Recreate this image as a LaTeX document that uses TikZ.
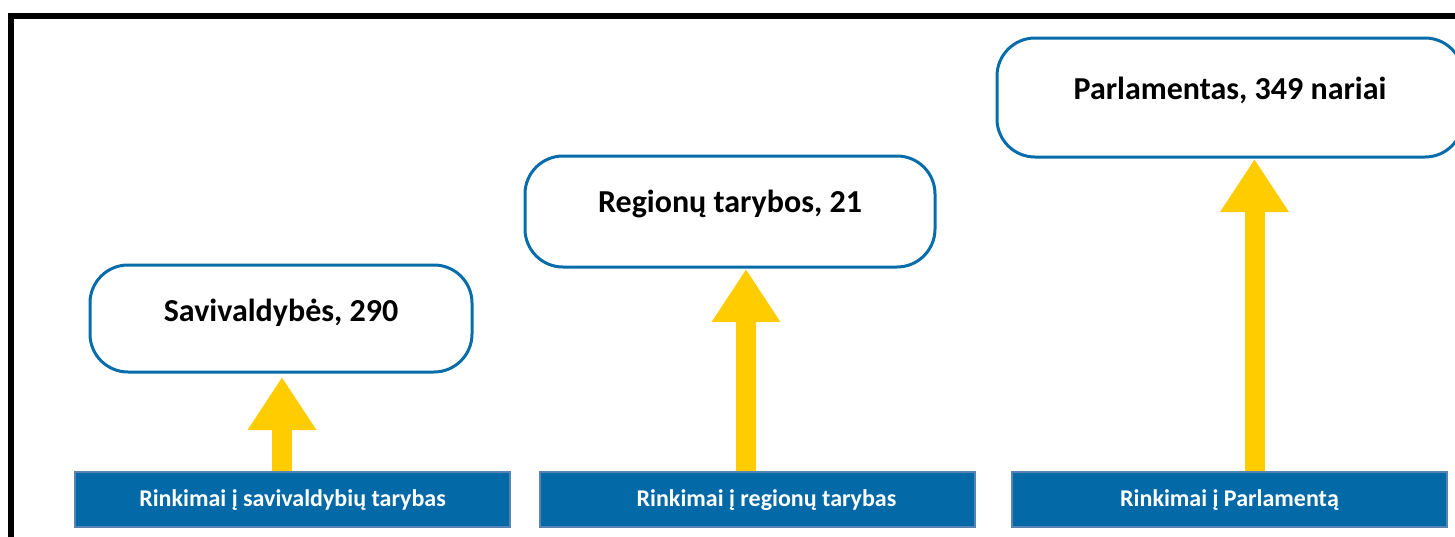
\documentclass[tikz,border=0pt]{standalone}
\usepackage{fontspec}
\setmainfont{Carlito}
\usetikzlibrary{arrows.meta}
\definecolor{boxblue}{RGB}{3,105,167}
\definecolor{boxedge}{RGB}{88,132,180}
\definecolor{lineblue}{RGB}{6,108,170}
\definecolor{arrowyellow}{RGB}{255,204,0}
\tikzset{
  electbox/.style={draw=boxedge, line width=1.2pt, fill=boxblue, minimum width=435pt,
    minimum height=55pt, inner sep=0pt},
  electtext/.style={text=white, font=\fontsize{24}{28}\selectfont\bfseries, anchor=base, inner sep=0pt},
  bodybox/.style={draw=lineblue, line width=3pt, fill=white, rounded corners=38pt, inner sep=0pt},
  bodytext/.style={font=\fontsize{32}{38}\selectfont\bfseries, anchor=base, inner sep=0pt},
  uparrow/.style={draw=arrowyellow, line width=20pt,
    -{Triangle[width=65pt,length=53pt]}}
}
\begin{document}
\begin{tikzpicture}[x=1pt,y=-1pt]
\useasboundingbox (0,0) rectangle (1455,536);
\clip (0,0) rectangle (1455,536);
\fill[white] (0,0) rectangle (1455,536);

% outer frame, running off the right and bottom edges
\draw[line width=6pt, line cap=rect] (11,545) -- (11,15.5) -- (1470,15.5);

% elections (bottom row)
\node[electbox] (b1) at (292.5,499.5) {};
\node[electbox] (b2) at (757.5,499.5) {};
\node[electbox] (b3) at (1229.5,499.5) {};
\node[electtext] (t1) at ([yshift=-7pt]b1.center) {Rinkimai į savivaldybių tarybas};
\node[electtext] (t2) at ([xshift=9pt,yshift=-7pt]b2.center) {Rinkimai į regionų tarybas};
\node[electtext] (t3) at ([yshift=-7pt]b3.center) {Rinkimai į Parlamentą};

% elected bodies
\node[bodybox, minimum width=382pt, minimum height=107pt] (r1) at (281,318.5) {};
\node[bodybox, minimum width=410pt, minimum height=111pt] (r2) at (730,211.5) {};
\node[bodybox, minimum width=466pt, minimum height=119pt] (r3) at (1230,97.5) {};
\node[bodytext] (l1) at ([yshift=-2.5pt]r1.center) {Savivaldybės, 290};
\node[bodytext] (l2) at ([yshift=-0.5pt]r2.center) {Regionų tarybos, 21};
\node[bodytext] (l3) at ([yshift=-1.5pt]r3.center) {Parlamentas, 349 nariai};

% arrows from each election to the body it fills
\coordinate (x1) at (282,0);
\coordinate (x2) at (746,0);
\coordinate (x3) at (1254.5,0);
\draw[uparrow, shorten >=3.5pt] (x1 |- b1.north) -- (x1 |- r1.south);
\draw[uparrow, shorten >=0.5pt] (x2 |- b2.north) -- (x2 |- r2.south);
\draw[uparrow, shorten >=0.5pt] (x3 |- b3.north) -- (x3 |- r3.south);
\end{tikzpicture}
\end{document}
